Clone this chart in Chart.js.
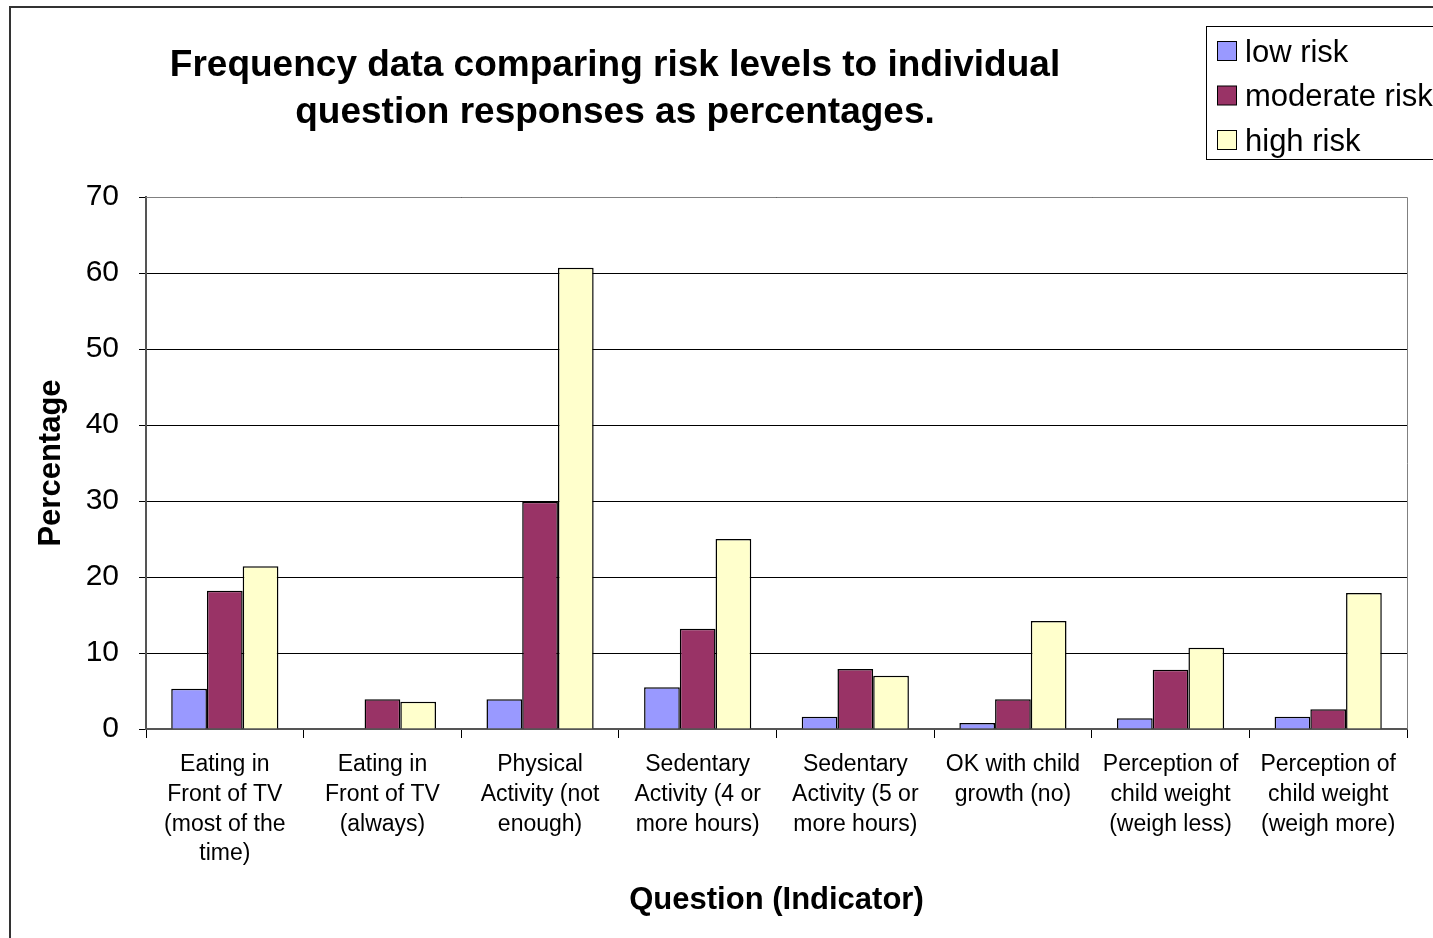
<!DOCTYPE html>
<html>
<head>
<meta charset="utf-8">
<script src="https://cdn.jsdelivr.net/npm/chart.js@4"></script>
<style>
  html, body { margin: 0; padding: 0; background: #fff; }
  #wrap { width: 1433px; height: 938px; }
</style>
</head>
<body>
<div id="wrap"><canvas id="riskChart" width="1433" height="938"></canvas></div>
<script>
const FONT = "'Liberation Sans', Arial, sans-serif";

const titleLines = [
    "Frequency data comparing risk levels to individual",
    "question responses as percentages."
];

const categories = [
    ["Eating in", "Front of TV", "(most of the", "time)"],
    ["Eating in", "Front of TV", "(always)"],
    ["Physical", "Activity (not", "enough)"],
    ["Sedentary", "Activity (4 or", "more hours)"],
    ["Sedentary", "Activity (5 or", "more hours)"],
    ["OK with child", "growth (no)"],
    ["Perception of", "child weight", "(weigh less)"],
    ["Perception of", "child weight", "(weigh more)"]
];

const seriesNames = ["low risk", "moderate risk", "high risk"];

const lowRisk = [5.3, 0, 3.9, 5.5, 1.6, 0.8, 1.4, 1.6];
const moderateRisk = [18.2, 3.9, 29.9, 13.2, 7.9, 3.9, 7.8, 2.6];
const highRisk = [21.4, 3.6, 60.7, 25.0, 7.0, 14.2, 10.7, 17.9];

const colors = ['#9999ff', '#993366', '#ffffcc'];

// frame, plot border, title and legend box (drawn like the old excel chart)
const decor = {
    id: 'decor',
    beforeDraw(chart) {
        const c = chart.ctx;
        c.save();
        c.fillStyle = '#fff';
        c.fillRect(0, 0, chart.width, chart.height);
        c.strokeStyle = '#333';
        c.lineWidth = 2;
        c.strokeRect(10, 7, chart.width + 20, chart.height + 20);
        c.restore();
    },
    afterDraw(chart) {
        const c = chart.ctx;
        const a = chart.chartArea;
        c.save();
        // plot area border (top/right)
        c.strokeStyle = '#808080';
        c.lineWidth = 1;
        c.beginPath();
        c.moveTo(a.left, a.top + 0.5);
        c.lineTo(a.right + 0.5, a.top + 0.5);
        c.lineTo(a.right + 0.5, a.bottom);
        c.stroke();

        // title
        c.fillStyle = '#000';
        c.font = 'bold 37px ' + FONT;
        c.textAlign = 'center';
        c.textBaseline = 'middle';
        titleLines.forEach((t, i) => c.fillText(t, 615, 66 + i * 47));

        // legend
        c.lineWidth = 1;
        c.strokeStyle = '#000';
        c.strokeRect(1206.5, 26.5, 240, 133);
        c.font = '31px ' + FONT;
        c.textAlign = 'left';
        chart.data.datasets.forEach((ds, i) => {
            const y = 51 + i * 44.5;
            c.fillStyle = ds.backgroundColor;
            c.fillRect(1217.5, y - 9.5, 19, 19);
            c.strokeRect(1217.5, y - 9.5, 19, 19);
            c.fillStyle = '#000';
            c.fillText(ds.label, 1245, y + 2);
        });
        c.restore();
    }
};

const ctx = document.getElementById('riskChart').getContext('2d');

const data = {
    labels: categories,
    datasets: [
        { label: seriesNames[0], data: lowRisk, backgroundColor: colors[0] },
        { label: seriesNames[1], data: moderateRisk, backgroundColor: colors[1] },
        { label: seriesNames[2], data: highRisk, backgroundColor: colors[2] }
    ].map(d => Object.assign(d, { borderColor: '#000', borderWidth: 1.5, borderSkipped: 'start' }))
};

const config = {
    type: 'bar',
    data: data,
    options: {
        responsive: false,
        animation: false,
        categoryPercentage: 0.68,
        barPercentage: 1,
        layout: {
            padding: { top: 197, right: 26, left: 0, bottom: 0 }
        },
        plugins: {
            legend: false,
            title: { display: false },
            tooltip: { enabled: false }
        },
        scales: {
            x: {
                grid: {
                    offset: true,
                    drawOnChartArea: false,
                    drawTicks: true,
                    tickLength: 9,
                    color: '#000'
                },
                border: { color: '#555', width: 2 },
                ticks: {
                    color: '#000',
                    font: { family: FONT, size: 23, lineHeight: 1.29 },
                    padding: 12,
                    maxRotation: 0,
                    autoSkip: false
                },
                title: {
                    display: true,
                    text: 'Question (Indicator)',
                    color: '#000',
                    font: { family: FONT, size: 31, weight: 'bold' },
                    padding: { top: 0, bottom: 19 }
                },
                afterFit(scale) { scale.height = 209; }
            },
            y: {
                min: 0,
                max: 70,
                ticks: {
                    stepSize: 10,
                    color: '#000',
                    font: { family: FONT, size: 30 },
                    padding: 20
                },
                grid: {
                    color: '#000',
                    lineWidth: 1,
                    tickLength: 7
                },
                border: { color: '#555', width: 2 },
                title: {
                    display: true,
                    text: 'Percentage',
                    color: '#000',
                    font: { family: FONT, size: 31, weight: 'bold' },
                    padding: { top: 33, bottom: 0 }
                },
                afterFit(scale) { scale.width = 146; }
            }
        }
    },
    plugins: [decor]
};

const riskChart = new Chart(ctx, config);
</script>
</body>
</html>
